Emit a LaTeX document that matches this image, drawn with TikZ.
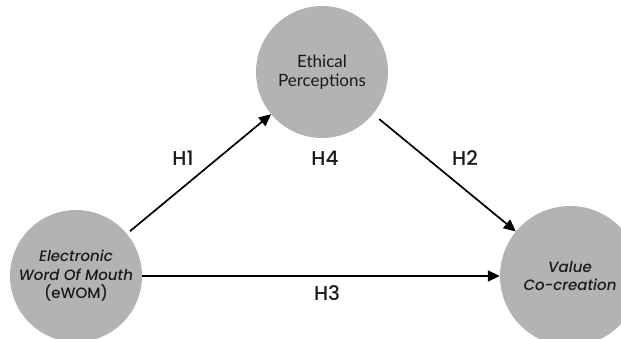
\documentclass[tikz,border=0pt]{standalone}
\usepackage{fontspec}
\setmainfont{Poppins}[UprightFont=* Medium, ItalicFont=* Medium Italic]
\newfontfamily\latofont{Lato}
\usetikzlibrary{arrows.meta}
\definecolor{circgray}{HTML}{B3B3B3}
\definecolor{txt}{HTML}{1A1A1A}
\tikzset{
  construct/.style={circle, fill=circgray, minimum size=132pt, inner sep=0pt, align=center, text=txt, font=\fontsize{15pt}{18.5pt}\selectfont},
  hyp/.style={draw=black, line width=1.7pt, -{Triangle[length=12pt,width=11pt]}},
  hlabel/.style={font=\fontsize{20pt}{22pt}\selectfont, inner sep=0pt, text=txt}
}
\begin{document}
\begin{tikzpicture}[x=1pt,y=-1pt]
\useasboundingbox (0,0) rectangle (621,339);
\clip (0,0) rectangle (621,339);
\node[construct] (ewom) at (76,276) {\itshape Electronic\\\itshape Word Of Mouth\\(eWOM)};
\node[construct] (eth) at (322,72) {\latofont\fontsize{17pt}{21pt}\selectfont Ethical\\\latofont\fontsize{17pt}{21pt}\selectfont Perceptions};
\node[construct, minimum size=140pt] (vcc) at (570,276) {\itshape Value\\\itshape Co-creation};
\draw[hyp, shorten <=4pt] (ewom) -- (eth);
\draw[hyp, shorten <=8pt] (eth) -- (vcc);
\draw[hyp] (ewom.east) -- (vcc.west);
\node[hlabel] (h1) at (183,158) {H1};
\node[hlabel] (h4) at (325,158) {H4};
\node[hlabel] (h2) at (465,158) {H2};
\node[hlabel] (h3) at (327,293) {H3};
\end{tikzpicture}
\end{document}
